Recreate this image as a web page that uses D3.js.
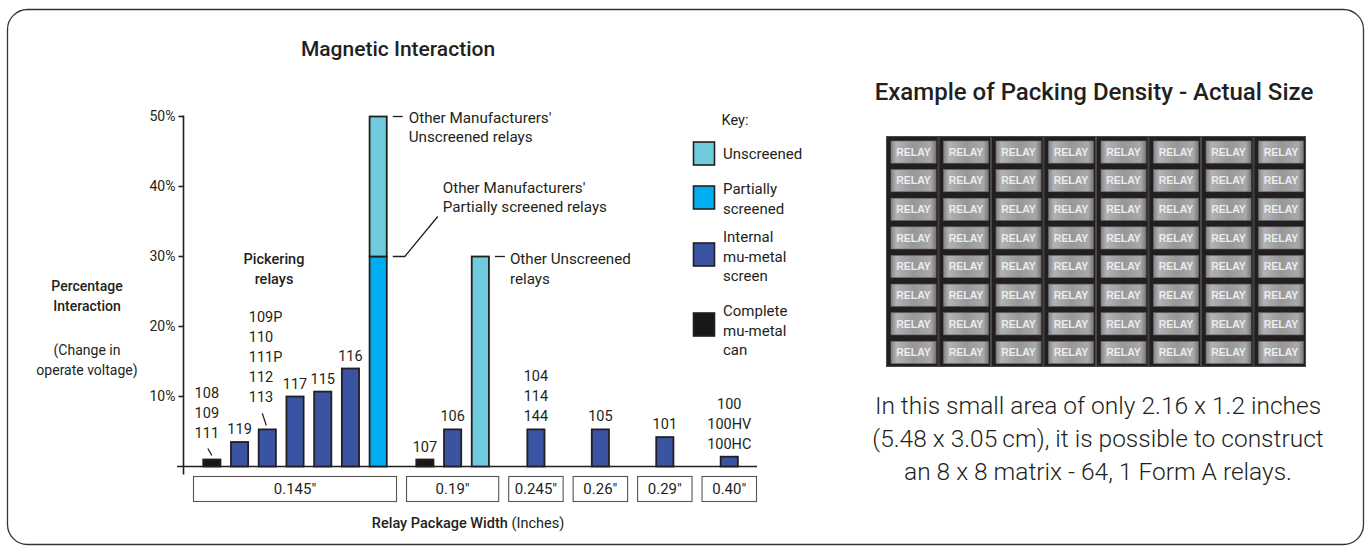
<!DOCTYPE html>
<html>
<head>
<meta charset="utf-8">
<script src="https://cdn.jsdelivr.net/npm/d3@7"></script>
<style>
  html, body { margin: 0; padding: 0; background: #fff; }
  svg text { font-family: Roboto, "Open Sans", "DejaVu Sans", sans-serif; fill: #231f20; }
</style>
</head>
<body>
<svg id="chart" width="1368" height="554"></svg>
<script>
// ---------------- DATA ----------------
const chartTitle = "Magnetic Interaction";
const groupLabels = ['0.145"', '0.19"', '0.245"', '0.26"', '0.29"', '0.40"'];
const barGroup  = [0, 0, 0, 0, 0, 0, 0, 1, 1, 1, 2, 3, 4, 5];
const barLabels = [
  ["108", "109", "111"], ["119"], ["109P", "110", "111P", "112", "113"], ["117"], ["115"], ["116"],
  [], ["107"], ["106"], [], ["104", "114", "144"], ["105"], ["101"], ["100", "100HV", "100HC"]
];
const barTypes  = ["complete", "internal", "internal", "internal", "internal", "internal", "partial",
                   "complete", "internal", "unscreened", "internal", "internal", "internal", "internal"];
const barValues = [1.0, 3.5, 5.3, 10.0, 10.7, 14.0, 30.0, 1.0, 5.3, 30.0, 5.3, 5.3, 4.2, 1.4];
// stacked upper segment (unscreened) above the base value
const barUpperValues = [0, 0, 0, 0, 0, 0, 20.0, 0, 0, 0, 0, 0, 0, 0];
const leaderLabelBars = [0, 2];
const yTicks = [10, 20, 30, 40, 50];

const keyTypes  = ["unscreened", "partial", "internal", "complete"];
const keyLabels = [["Unscreened"], ["Partially", "screened"], ["Internal", "mu-metal", "screen"], ["Complete", "mu-metal", "can"]];

const rightTitle = "Example of Packing Density - Actual Size";
const matrixRows = 8, matrixCols = 8;
const cellText = "RELAY";
const noteLines = ["In this small area of only 2.16 x 1.2 inches",
                   "(5.48 x 3.05\u2009cm), it is possible to construct",
                   "an 8 x 8 matrix - 64, 1 Form A relays."];

// ---------------- STYLE ----------------
const colors = { unscreened: "#6dcbdc", partial: "#00aeef", internal: "#3a53a3", complete: "#1a1718" };
const ink = "#231f20";

const svg = d3.select("#chart");

// border
svg.append("rect").attr("x", 7.5).attr("y", 9.5).attr("width", 1356).attr("height", 535)
  .attr("rx", 20).attr("ry", 20).attr("fill", "none").attr("stroke", "#333").attr("stroke-width", 1.3);

// title
svg.append("text").attr("x", 398).attr("y", 56).attr("text-anchor", "middle")
  .attr("font-size", 21).attr("font-weight", 500).text(chartTitle);

// ---------------- X LAYOUT (slot units) ----------------
const groupCounts = groupLabels.map((g, i) => barGroup.filter(b => b === i).length);
const groupGap = 0.325;
let cursor = 0;
const groupStart = [], groupWidth = [];
groupCounts.forEach(n => {
  const w = Math.max(n + 0.36, 2);
  groupStart.push(cursor); groupWidth.push(w);
  cursor += w + groupGap;
});
const totalUnits = cursor - groupGap;
const x = d3.scaleLinear().domain([0, totalUnits]).range([193, 757]);
const y = d3.scaleLinear().domain([0, 50]).range([466.5, 116.5]);

const barCenter = barGroup.map((g, i) => {
  const idxInGroup = barGroup.slice(0, i).filter(b => b === g).length;
  return groupStart[g] + groupWidth[g] / 2 + (idxInGroup - (groupCounts[g] - 1) / 2);
});
const barW = 0.62;

// y axis
const yAxisX = 183.5;
svg.append("line").attr("x1", yAxisX).attr("x2", yAxisX).attr("y1", y(50) - 1).attr("y2", y(0) + 8)
  .attr("stroke", ink).attr("stroke-width", 1.6);
const yT = svg.append("g");
yTicks.forEach(t => {
  yT.append("line").attr("x1", yAxisX - 5).attr("x2", yAxisX).attr("y1", y(t)).attr("y2", y(t))
    .attr("stroke", ink).attr("stroke-width", 1.6);
  yT.append("text").attr("x", yAxisX - 8).attr("y", y(t)).attr("dy", "0.35em").attr("text-anchor", "end")
    .attr("font-size", 14).text(t + "%");
});
// baseline
svg.append("line").attr("x1", 177).attr("x2", 757).attr("y1", y(0)).attr("y2", y(0))
  .attr("stroke", ink).attr("stroke-width", 1.6);

// y axis title
const yLab = svg.append("g");
[["Percentage", 291, 500], ["Interaction", 311, 500], ["(Change in", 355, 400], ["operate voltage)", 375, 400]].forEach(l => {
  yLab.append("text").attr("x", 87).attr("y", l[1]).attr("text-anchor", "middle").attr("font-size", 14)
    .attr("font-weight", l[2]).text(l[0]);
});

// bars
const bars = svg.append("g");
barValues.forEach((v, i) => {
  const cx = x(barCenter[i]);
  const w = x(barW) - x(0);
  bars.append("rect").attr("x", cx - w / 2).attr("y", y(v)).attr("width", w).attr("height", y(0) - y(v))
    .attr("fill", colors[barTypes[i]]).attr("stroke", ink).attr("stroke-width", 1.8);
  if (barUpperValues[i] > 0) {
    const top = v + barUpperValues[i];
    bars.append("rect").attr("x", cx - w / 2).attr("y", y(top)).attr("width", w).attr("height", y(v) - y(top))
      .attr("fill", colors.unscreened).attr("stroke", ink).attr("stroke-width", 1.8);
  }
});

// bar labels
const lab = svg.append("g");
const lineH = 20;
barLabels.forEach((lines, i) => {
  if (!lines.length) return;
  const cx = x(barCenter[i]);
  const top = y(barValues[i] + barUpperValues[i]);
  const leader = leaderLabelBars.includes(i);
  let baseY, tx, anchor;
  if (leader) {
    const isLong = lines.length > 3;
    baseY = top - (isLong ? 27 : 22);
    tx = isLong ? cx - 18.5 : cx - 5;
    anchor = isLong ? "start" : "middle";
    const lx = isLong ? cx - 5 : cx - 4;
    lab.append("line").attr("x1", lx).attr("y1", baseY + 11).attr("x2", lx + 4).attr("y2", top - 4)
      .attr("stroke", ink).attr("stroke-width", 1.3);
  } else {
    baseY = top - 8;
    tx = cx; anchor = "middle";
  }
  lines.forEach((t, k) => {
    lab.append("text").attr("x", tx).attr("y", baseY - (lines.length - 1 - k) * lineH)
      .attr("text-anchor", anchor).attr("font-size", 14.5).text(t);
  });
});

// "Pickering relays"
[["Pickering", 264], ["relays", 284]].forEach(l => {
  svg.append("text").attr("x", 274).attr("y", l[1]).attr("text-anchor", "middle").attr("font-size", 14.5)
    .attr("font-weight", 500).text(l[0]);
});

// annotations
const annSize = 15.2;
const stackIdx = barUpperValues.findIndex(v => v > 0);
const stackRight = x(barCenter[stackIdx]) + (x(barW) - x(0)) / 2;
const ann = svg.append("g");
ann.append("line").attr("x1", stackRight + 6).attr("x2", stackRight + 16).attr("y1", y(50)).attr("y2", y(50))
  .attr("stroke", ink).attr("stroke-width", 1.3);
[["Other Manufacturers'", 0], ["Unscreened relays", 1]].forEach(l => {
  ann.append("text").attr("x", stackRight + 22).attr("y", y(50) + 1 + l[1] * 19.5).attr("dy", "0.35em")
    .attr("font-size", annSize).text(l[0]);
});
ann.append("polyline").attr("points", [[stackRight + 6, y(30)], [stackRight + 18, y(30)], [stackRight + 51, y(30) - 40]].join(" "))
  .attr("fill", "none").attr("stroke", ink).attr("stroke-width", 1.3);
[["Other Manufacturers'", 0], ["Partially screened relays", 1]].forEach(l => {
  ann.append("text").attr("x", stackRight + 56).attr("y", y(30) - 69 + l[1] * 19.5).attr("dy", "0.35em")
    .attr("font-size", annSize).text(l[0]);
});
const unscrIdx = barTypes.indexOf("unscreened");
const unscrRight = x(barCenter[unscrIdx]) + (x(barW) - x(0)) / 2;
ann.append("line").attr("x1", unscrRight + 6).attr("x2", unscrRight + 16).attr("y1", y(30)).attr("y2", y(30))
  .attr("stroke", ink).attr("stroke-width", 1.3);
[["Other Unscreened", 0], ["relays", 1]].forEach(l => {
  ann.append("text").attr("x", unscrRight + 21).attr("y", y(30) + 2 + l[1] * 20).attr("dy", "0.35em")
    .attr("font-size", annSize).text(l[0]);
});

// group boxes
const gb = svg.append("g");
groupLabels.forEach((g, i) => {
  const x0 = x(groupStart[i]), x1 = x(groupStart[i] + groupWidth[i]);
  gb.append("rect").attr("x", x0 + 0.5).attr("y", 476.5).attr("width", x1 - x0 - 1).attr("height", 25)
    .attr("fill", "#fff").attr("stroke", "#555").attr("stroke-width", 1.1);
  gb.append("text").attr("x", (x0 + x1) / 2).attr("y", 489).attr("dy", "0.35em").attr("text-anchor", "middle")
    .attr("font-size", 15).text(g);
});
// x axis title
const xt = svg.append("text").attr("x", 468).attr("y", 528).attr("text-anchor", "middle").attr("font-size", 14.5);
xt.append("tspan").attr("font-weight", 500).text("Relay Package Width ");
xt.append("tspan").text("(Inches)");

// key
const key = svg.append("g");
key.append("text").attr("x", 735).attr("y", 120).attr("dy", "0.35em").attr("text-anchor", "middle").attr("font-size", 14.5).text("Key:");
const keySqY = [142, 186, 243, 313];
const keyTextY = [[154], [189, 209], [237, 256.5, 276], [311, 330.5, 350]];
keyTypes.forEach((t, i) => {
  key.append("rect").attr("x", 693.5).attr("y", keySqY[i]).attr("width", 21).attr("height", 23)
    .attr("fill", colors[t]).attr("stroke", ink).attr("stroke-width", 1.6);
  keyLabels[i].forEach((l, k) => {
    key.append("text").attr("x", 723).attr("y", keyTextY[i][k]).attr("dy", "0.35em").attr("font-size", 15).text(l);
  });
});

// ---------------- RIGHT PANEL ----------------
svg.append("text").attr("x", 1094).attr("y", 92).attr("dy", "0.35em").attr("text-anchor", "middle")
  .attr("font-size", 24).attr("font-weight", 500).text(rightTitle);

const defs = svg.append("defs");
const grad = defs.append("linearGradient").attr("id", "cellGrad").attr("x1", "0").attr("x2", "1").attr("y1", "0").attr("y2", "0");
[[0, "#858587"], [0.12, "#b3b3b5"], [0.5, "#97979a"], [0.88, "#a9a9ab"], [1, "#78787a"]].forEach(s =>
  grad.append("stop").attr("offset", s[0]).attr("stop-color", s[1]));

const gx = 886, gy = 136, gw = 420, gh = 231;
const colScale = d3.scaleBand().domain(d3.range(matrixCols)).range([gx, gx + gw]).paddingInner(0).paddingOuter(0);
const rowScale = d3.scaleBand().domain(d3.range(matrixRows)).range([gy + 1, gy + gh - 1]);
const mat = svg.append("g");
mat.append("rect").attr("x", gx).attr("y", gy).attr("width", gw).attr("height", gh).attr("fill", "#231f20");
d3.range(matrixCols).forEach(c => {
  mat.append("rect").attr("x", colScale(c) + 0.5).attr("y", gy + 0.5).attr("width", colScale.bandwidth() - 1).attr("height", gh - 1)
    .attr("fill", "none").attr("stroke", "#4b4849").attr("stroke-width", 1);
});
d3.range(matrixRows).forEach(r => {
  d3.range(matrixCols).forEach(c => {
    const cx = colScale(c) + 5, cy = rowScale(r) + 4;
    const cw = colScale.bandwidth() - 7.5, ch = rowScale.bandwidth() - 6.5;
    mat.append("rect").attr("x", cx).attr("y", cy).attr("width", cw).attr("height", ch).attr("fill", "url(#cellGrad)")
      .attr("stroke", "#6e6e70").attr("stroke-width", 0.6);
    mat.append("text").attr("x", cx + cw / 2).attr("y", cy + ch / 2).attr("dy", "0.36em").attr("text-anchor", "middle")
      .attr("font-size", 10.5).attr("font-weight", 700).style("font-family", "'Liberation Sans', Arial, sans-serif")
      .style("fill", "#ececec").text(cellText);
  });
});

const note = svg.append("g");
noteLines.forEach((l, i) => {
  note.append("text").attr("x", 1098).attr("y", 405 + i * 33).attr("dy", "0.35em").attr("text-anchor", "middle")
    .attr("font-size", 24.5).attr("font-weight", 300).text(l);
});
</script>
</body>
</html>
